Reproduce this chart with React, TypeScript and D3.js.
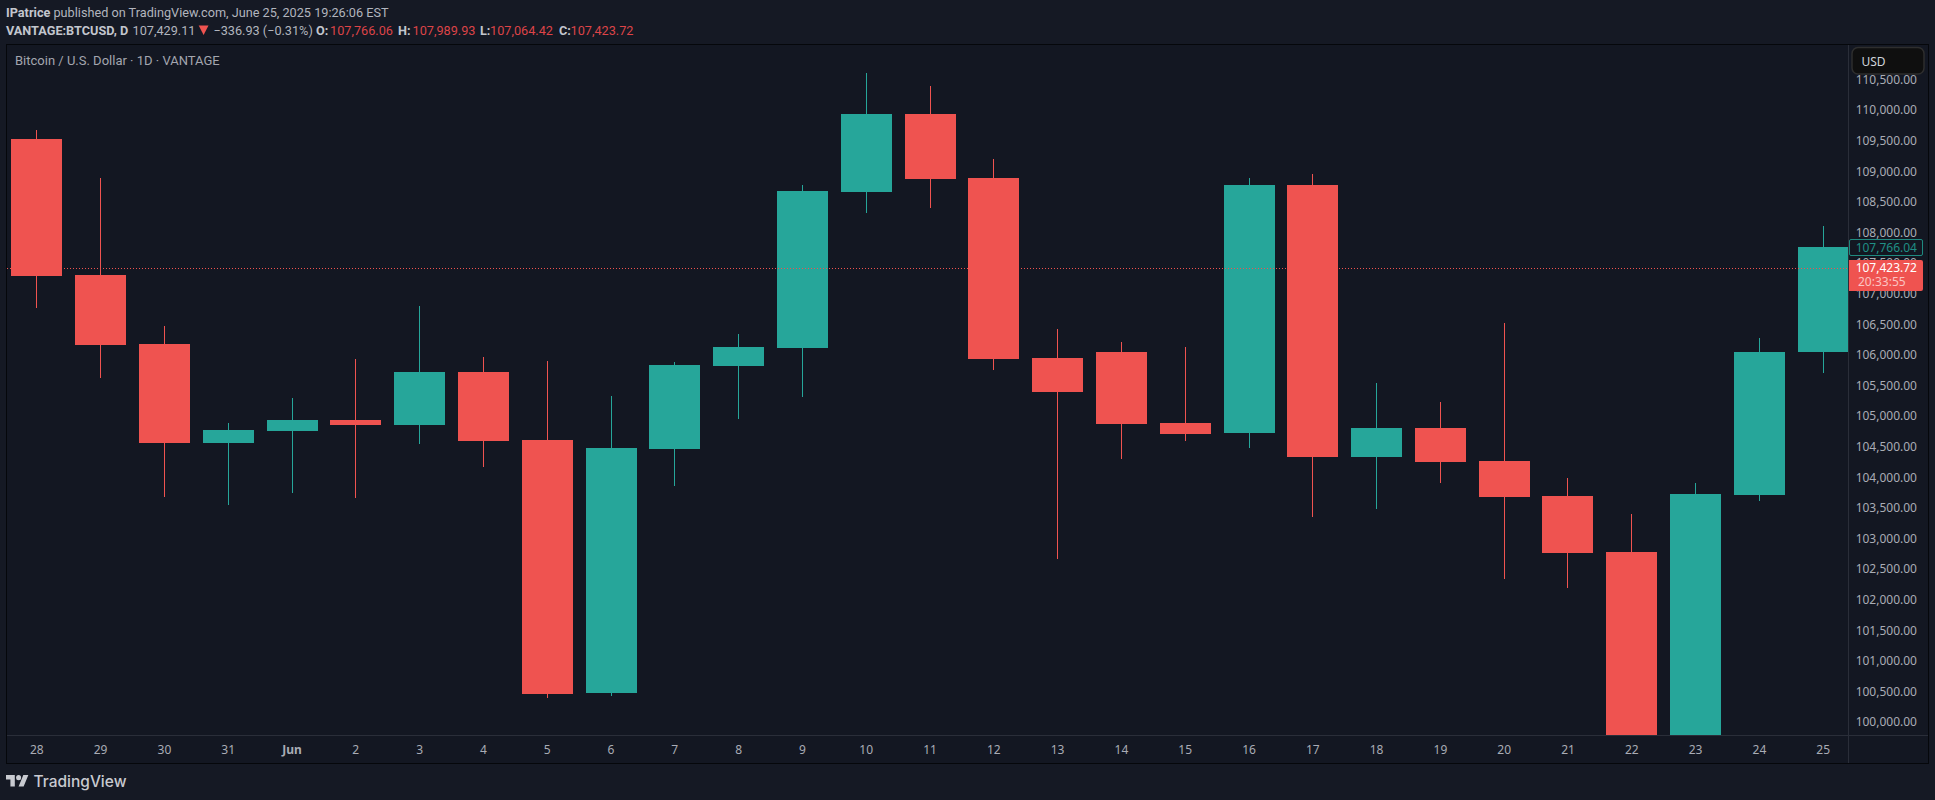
import React from "react";
import * as d3 from "d3";

const dayLabels = ["28","29","30","31","Jun","2","3","4","5","6","7","8","9","10","11","12","13","14","15","16","17","18","19","20","21","22","23","24","25"];
const opens = [109536,107314,106186,104569,104765,104944,104863,105729,104618,100484,104471,105827,106121,108670,109945,108899,105958,106056,104896,104732,108784,104340,104814,104275,103703,102788,99000,103719,106056];
const highs = [109683,108899,106480,104896,105304,105941,106807,105974,105909,105337,105892,106350,108784,110614,110402,109209,106431,106219,106137,108899,108964,105549,105239,106529,103997,103409,103915,106284,108114];
const lows = [106775,105636,103686,103556,103752,103670,104552,104176,100402,100435,103866,104961,105320,108327,108409,105761,102673,104307,104601,104487,103360,103490,103915,102346,102199,98200,98200,103621,105719];
const closes = [107297,106170,104569,104781,104944,104863,105729,104601,100467,104487,105843,106137,108686,109945,108883,105941,105402,104879,104716,108784,104340,104814,104258,103686,102771,99000,103735,106060,107766];
const priceTicks = [100000,100500,101000,101500,102000,102500,103000,103500,104000,104500,105000,105500,106000,106500,107000,107500,108000,108500,109000,109500,110000,110500];
const lastPrice = 107423.72;
const prevPrice = 107766.04;

const UP = "#26a69a";
const DOWN = "#ef5350";
const OUTER = "#151924";
const PANE = "#131722";
const SEP = "#2a2e39";
const AXIS_TEXT = "#a9acb5";
const FONT = "Roboto, 'Noto Sans', sans-serif";
const AXFONT = "'Noto Sans', Roboto, sans-serif";

const x = d3.scaleLinear().domain([0, dayLabels.length - 1]).range([36.8, 1823.2]);
const y = d3.scaleLinear().domain([100000, 110000]).range([722.6, 110.6]);
const fmt = d3.format(",.2f");

const PANE_L = 7, PANE_T = 45, PANE_R = 1848, PANE_B = 735;
const BODY_W = 51;

export default function App() {
  return (
    <svg width={1935} height={800} viewBox="0 0 1935 800"
      style={{ position: "fixed", left: 0, top: 0, display: "block" }}>
      <defs>
        <clipPath id="pane"><rect x={PANE_L} y={PANE_T} width={PANE_R - PANE_L} height={PANE_B - PANE_T} /></clipPath>
      </defs>
      <rect width={1935} height={800} fill={OUTER} />

      {/* header */}
      <g fontFamily={FONT} fontSize={12.7} dominantBaseline="central">
        <text x={6} y={12.5} fill="#c3c6ce" fontWeight={700}>IPatrice</text>
        <text x={53.5} y={12.5} fill="#b2b5be">published on TradingView.com, June 25, 2025 19:26:06 EST</text>
        <text x={6} y={30} fill="#c3c6ce" fontWeight={700}>VANTAGE:BTCUSD, D</text>
        <text x={132.5} y={30} fill="#b2b5be">107,429.11</text>
        <path d="M198.7 25.5h9.8L203.6 35z" fill={DOWN} />
        <text x={213.4} y={30} fill="#b2b5be">−336.93 (−0.31%)</text>
        <text x={316} y={30} fill="#c3c6ce" fontWeight={700}>O:</text>
        <text x={330} y={30} fill="#dd4448">107,766.06</text>
        <text x={398} y={30} fill="#c3c6ce" fontWeight={700}>H:</text>
        <text x={412.5} y={30} fill="#dd4448">107,989.93</text>
        <text x={480} y={30} fill="#c3c6ce" fontWeight={700}>L:</text>
        <text x={490} y={30} fill="#dd4448">107,064.42</text>
        <text x={559} y={30} fill="#c3c6ce" fontWeight={700}>C:</text>
        <text x={570.5} y={30} fill="#dd4448">107,423.72</text>
      </g>

      {/* pane */}
      <rect x={PANE_L} y={PANE_T} width={1921} height={718} fill={PANE} />
      <text x={15} y={60.5} fontFamily={FONT} fontSize={13} fill="#a3a6af" dominantBaseline="central">
        Bitcoin / U.S. Dollar · 1D · VANTAGE
      </text>

      <g clipPath="url(#pane)" shapeRendering="crispEdges">
        {dayLabels.map((d, i) => {
          const cx = x(i);
          const up = closes[i] >= opens[i];
          const color = up ? UP : DOWN;
          const top = Math.round(y(Math.max(opens[i], closes[i])));
          const bot = Math.round(y(Math.min(opens[i], closes[i])));
          const hi = Math.round(y(highs[i]));
          const lo = Math.round(y(lows[i]));
          return (
            <g key={d}>
              <rect x={Math.floor(cx)} y={hi} width={1} height={lo - hi} fill={color} />
              <rect x={Math.round(cx - BODY_W / 2)} y={top} width={BODY_W} height={bot - top} fill={color} />
            </g>
          );
        })}
      </g>

      {/* last price dotted line */}
      <line x1={PANE_L} x2={PANE_R} y1={Math.floor(y(lastPrice)) + 0.5} y2={Math.floor(y(lastPrice)) + 0.5}
        stroke={DOWN} strokeWidth={1} strokeDasharray="1 2" shapeRendering="crispEdges" />

      {/* separators and border */}
      <g shapeRendering="crispEdges">
        <line x1={PANE_L} x2={1928} y1={735.5} y2={735.5} stroke={SEP} />
        <line x1={1848.5} x2={1848.5} y1={45} y2={763} stroke={SEP} />
        <rect x={6.5} y={44.5} width={1922} height={719} fill="none" stroke="#05070b" />
      </g>

      {/* price axis */}
      <g fontFamily={AXFONT} fontSize={12} fill={AXIS_TEXT} dominantBaseline="central" textAnchor="end">
        {priceTicks.map((p) => (
          <text key={p} x={1917} y={y(p) - 0.8}>{fmt(p)}</text>
        ))}
      </g>

      {/* time axis */}
      <g fontFamily={AXFONT} fontSize={12} fill={AXIS_TEXT} dominantBaseline="central" textAnchor="middle">
        {dayLabels.map((d, i) => (
          <text key={d} x={x(i)} y={749.5} fontWeight={d === "Jun" ? 700 : 400}>{d}</text>
        ))}
      </g>

      {/* USD button */}
      <rect x={1852} y={47.5} width={72} height={26.5} rx={6} fill="#0f0f0f" stroke="#2e2e2e" strokeWidth={1.5} />
      <text x={1861.5} y={61} fontFamily={AXFONT} fontSize={12} fill="#d1d4dc" dominantBaseline="central">USD</text>

      {/* previous close tag */}
      <rect x={1849.5} y={239.5} width={73} height={16} rx={1.5} fill={PANE} stroke="#1f8a80" />
      <text x={1917} y={247} fontFamily={AXFONT} fontSize={12} fill="#1f8f85" dominantBaseline="central" textAnchor="end">
        {fmt(prevPrice)}
      </text>

      {/* current price tag */}
      <path d="M1849 260H1921a2 2 0 0 1 2 2V289a2 2 0 0 1 -2 2H1849Z" fill={DOWN} />
      <text x={1917} y={267.5} fontFamily={AXFONT} fontSize={12} fill="#ffffff" dominantBaseline="central" textAnchor="end">
        {fmt(lastPrice)}
      </text>
      <text x={1858} y={281.5} fontFamily={AXFONT} fontSize={12} fill="#fbc4c2" dominantBaseline="central">20:33:55</text>

      {/* logo */}
      <g transform="translate(6 772.6) scale(0.63)" fill="#c8cad0">
        <path d="M14 22H7V11H0V4h14v18zM28 22h-8l7.5-18h8L28 22z" />
        <circle cx={20} cy={8} r={4} />
      </g>
      <text x={33.5} y={781} fontFamily="Inter, 'Noto Sans', sans-serif" fontSize={15.5} fontWeight={500} fill="#c8cad0"
        dominantBaseline="central">TradingView</text>
    </svg>
  );
}
